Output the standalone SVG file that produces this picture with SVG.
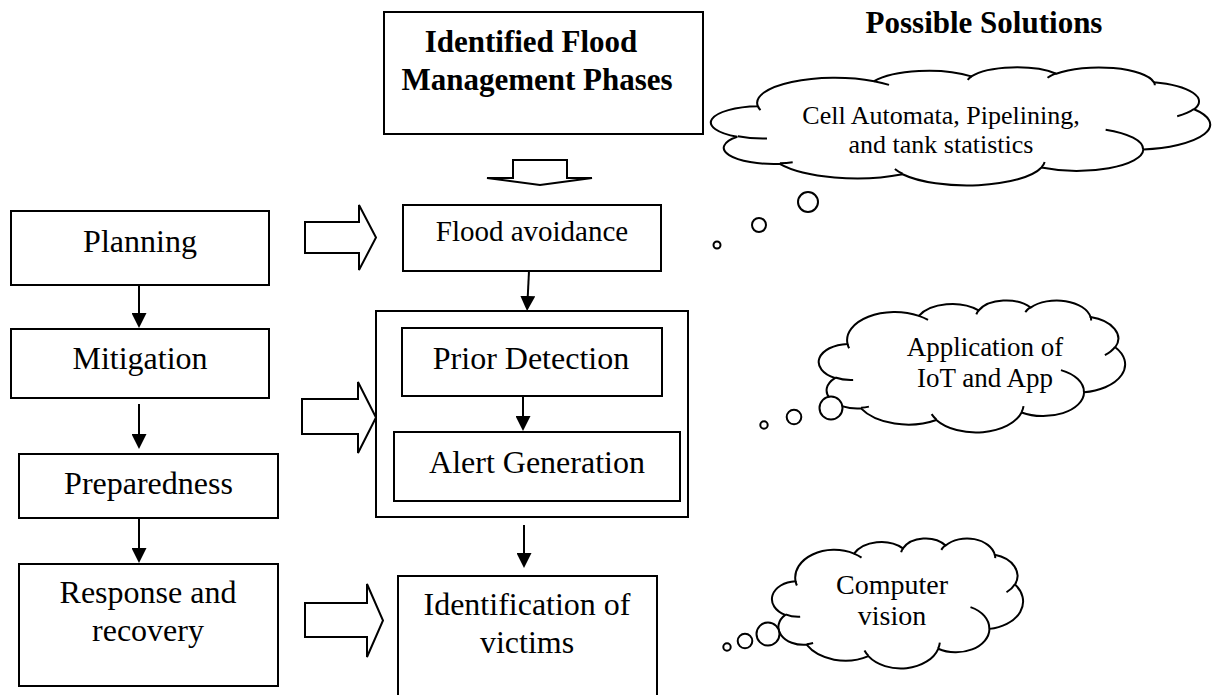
<svg xmlns="http://www.w3.org/2000/svg" xmlns:xlink="http://www.w3.org/1999/xlink" width="1226" height="695" viewBox="0 0 1226 695">
<style>
.box{fill:#fff;stroke:#000;stroke-width:2}
.conn{fill:none;stroke:#000;stroke-width:2;marker-end:url(#ah)}
.block{fill:#fff;stroke:#000;stroke-width:2;stroke-linejoin:miter}
.cloud{fill:#fff;stroke:#000;stroke-width:2;vector-effect:non-scaling-stroke}
.curl{fill:none;stroke:#000;stroke-width:2;vector-effect:non-scaling-stroke}
.bubble{fill:#fff;stroke:#000;stroke-width:2}
.t{font-family:"Liberation Serif","Times New Roman",serif;font-size:32px;text-anchor:middle;fill:#000}
.tb{font-weight:bold;font-size:31px}
.tc{font-size:26px}
</style>
<defs>
<marker id="ah" markerUnits="userSpaceOnUse" markerWidth="15" markerHeight="15" refX="12" refY="7.5" orient="auto"><path d="M0,0 L15,7.5 L0,15 z" fill="#000"/></marker>
<path id="cloud-outline" class="cloud" d="M9.028 33.264 A15.632 21.273 0 0 1 32.419 12.043 A12.345 16.822 0 0 1 51.981 7.944 A10.104 13.762 0 0 1 69.057 5.741 A11.243 15.266 0 0 1 88.698 12.907 A12.345 16.836 0 0 1 96.8 35.786 A15.683 21.343 0 0 1 86.579 69.907 A13.391 18.211 0 0 1 66.096 85.208 A15.63 21.331 0 0 1 38.144 90.887 A17.87 24.405 0 0 1 13.429 82.105 A10.093 13.699 0 0 1 4.885 59.136 A10.058 13.762 0 0 1 9.028 33.264 Z"/>
<path id="cloud-curls" class="curl" d="M10.863 60.595 A10.058 13.762 0 0 1 5 58.75 M16.037 80.785 A10.093 13.699 0 0 1 13.471 81.668 M38.144 90.486 A15.63 21.331 0 0 1 36.597 86.456 M66.729 80.442 A15.63 21.331 0 0 1 66.112 84.86 M79.002 53.134 A13.391 18.211 0 0 1 86.529 69.652 M96.755 35.542 A12.345 16.836 0 0 1 93.402 41.737 M88.713 12.56 A11.243 15.266 0 0 1 88.89 15.485 M67.31 9.148 A11.243 15.266 0 0 1 69.028 5.415 M51.252 10.926 A10.104 13.762 0 0 1 52.084 7.708 M32.407 12.019 A15.632 21.273 0 0 1 35.418 15.141 M9.553 36.549 A15.632 21.273 0 0 1 9.028 33.263"/>
</defs>
<rect width="1226" height="695" fill="#fff"/>

<g id="title-box">
<rect class="box" x="384" y="12" width="319" height="122"/>
<text class="t tb" x="531" y="52">Identified Flood</text>
<text class="t tb" x="537" y="90">Management Phases</text>
</g>
<g id="title-solutions">
<text class="t tb" x="984" y="33">Possible Solutions</text>
</g>

<g id="planning"><rect class="box" x="11" y="211" width="258" height="74"/><text class="t" x="140" y="252">Planning</text></g>
<g id="mitigation"><rect class="box" x="11" y="329" width="258" height="69"/><text class="t" x="140" y="369">Mitigation</text></g>
<g id="preparedness"><rect class="box" x="19" y="454" width="259" height="64"/><text class="t" x="148.5" y="494">Preparedness</text></g>
<g id="response"><rect class="box" x="19" y="564" width="259" height="122"/><text class="t" x="148" y="603">Response and</text><text class="t" x="148" y="641">recovery</text></g>

<g id="flood-avoidance"><rect class="box" x="403" y="205" width="258" height="66"/><text class="t" x="532" y="241" style="font-size:29px">Flood avoidance</text></g>
<g id="detection-container"><rect class="box" x="376" y="311" width="312" height="206"/></g>
<g id="prior-detection"><rect class="box" x="402" y="328" width="260" height="68"/><text class="t" x="531" y="369">Prior Detection</text></g>
<g id="alert-generation"><rect class="box" x="394" y="432" width="286" height="69"/><text class="t" x="537" y="473">Alert Generation</text></g>
<g id="identification"><rect class="box" x="398" y="576" width="259" height="130"/><text class="t" x="527" y="615">Identification of</text><text class="t" x="527" y="653">victims</text></g>

<g id="cloud-1">
<use xlink:href="#cloud-outline" transform="translate(713,67) scale(4.97,1.18)"/>
<use xlink:href="#cloud-curls" transform="translate(713,67) scale(4.97,1.18)"/>
<circle class="bubble" cx="808" cy="202" r="10"/>
<circle class="bubble" cx="759" cy="225" r="7"/>
<circle class="bubble" cx="717" cy="245" r="3.5"/>
<text class="t tc" x="941" y="123.5">Cell Automata, Pipelining,</text>
<text class="t tc" x="941" y="152.5">and tank statistics</text>
</g>
<g id="cloud-2">
<use xlink:href="#cloud-outline" transform="translate(820,300) scale(3.05,1.32)"/>
<use xlink:href="#cloud-curls" transform="translate(820,300) scale(3.05,1.32)"/>
<circle class="bubble" cx="831" cy="408" r="11.5"/>
<circle class="bubble" cx="794" cy="417" r="7.3"/>
<circle class="bubble" cx="764" cy="425" r="3.7"/>
<text class="t" x="985" y="356" style="font-size:27px">Application of</text>
<text class="t" x="985" y="387" style="font-size:27px">IoT and App</text>
</g>
<g id="cloud-3">
<use xlink:href="#cloud-outline" transform="translate(773,538) scale(2.5,1.3)"/>
<use xlink:href="#cloud-curls" transform="translate(773,538) scale(2.5,1.3)"/>
<circle class="bubble" cx="768" cy="634" r="11.5"/>
<circle class="bubble" cx="745" cy="641" r="7.3"/>
<circle class="bubble" cx="727" cy="647" r="3.7"/>
<text class="t" x="892" y="594" style="font-size:28px">Computer</text>
<text class="t" x="892" y="625" style="font-size:28px">vision</text>
</g>

<g id="connectors">
<polygon class="block" points="513,160 567,160 567,178 592,178 540,185 487,178 513,178"/>
<polygon class="block" points="305,222 359,222 359,205 376,237.5 359,270 359,253 305,253"/>
<polygon class="block" points="302,399 358,399 358,382 376,417.5 358,453 358,434 302,434"/>
<polygon class="block" points="305,603 367,603 367,584 383,620.5 367,657 367,637 305,637"/>
<path class="conn" d="M139 285 L139 325"/>
<path class="conn" d="M139 404 L139 446"/>
<path class="conn" d="M139 518 L139 560"/>
<path class="conn" d="M529 271 L527.2 308"/>
<path class="conn" d="M523 396 L523 428"/>
<path class="conn" d="M524 525 L524 565"/>
</g>
</svg>
